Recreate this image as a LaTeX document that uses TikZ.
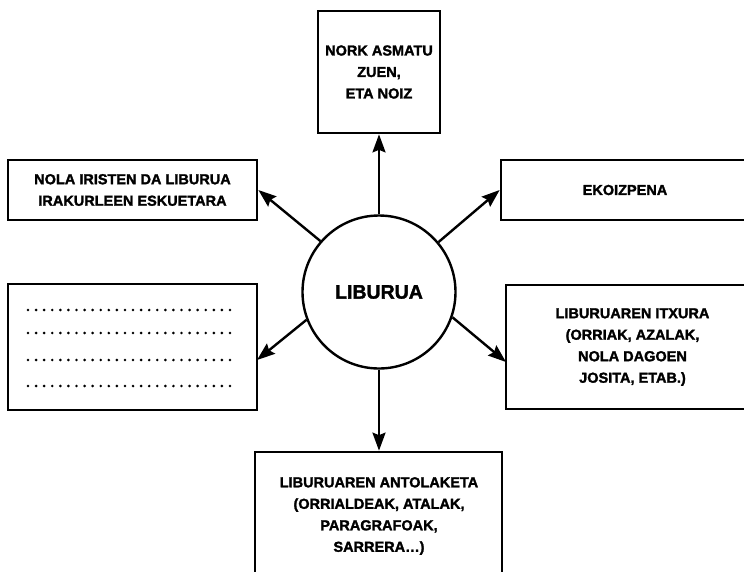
\documentclass[tikz,border=0pt]{standalone}
\usepackage{fontspec}
\setmainfont{Liberation Sans}[BoldFeatures={FakeBold=1.8}]
\usetikzlibrary{arrows.meta}
\begin{document}
\begin{tikzpicture}[x=1pt,y=-1pt,
  box/.style={draw=black,line width=2.7pt,rectangle,inner sep=0pt,align=center,
    font=\fontsize{14.5}{21.5}\selectfont\bfseries},
  conn/.style={line width=2.4pt,-{Stealth[length=18pt,width=13pt,inset=2.5pt]}}]
\useasboundingbox (0,0) rectangle (744,571);
\clip (0,0) rectangle (744,571);
\fill[white] (0,0) rectangle (744,571);
% centre
\node[circle,draw=black,line width=2.4pt,minimum size=153pt,inner sep=0pt,
  font=\fontsize{19.5}{22}\selectfont\bfseries] (c) at (379,292) {LIBURUA};
% boxes
\node[box,minimum width=122pt,minimum height=122pt] (top) at (379,72)
  {NORK ASMATU\\ZUEN,\\ETA NOIZ};
\node[box,minimum width=249pt,minimum height=60pt] (nola) at (132.5,190)
  {NOLA IRISTEN DA LIBURUA\\IRAKURLEEN ESKUETARA};
\node[box,minimum width=248pt,minimum height=60pt] (ekoiz) at (625,190)
  {EKOIZPENA};
\node[box,minimum width=249pt,minimum height=126pt] (dots) at (132.5,347) {};
\node[box,minimum width=253pt,minimum height=124pt] (itx) at (632.5,347)
  {LIBURUAREN ITXURA\\(ORRIAK, AZALAK,\\NOLA DAGOEN\\JOSITA, ETAB.)};
\node[box,minimum width=247pt,minimum height=180pt] (ant) at (378.5,542) {};
\node[align=center,inner sep=0pt,font=\fontsize{14.5}{21.5}\selectfont\bfseries] (antt) at (379,516)
  {LIBURUAREN ANTOLAKETA\\(ORRIALDEAK, ATALAK,\\PARAGRAFOAK,\\SARRERA\ldots)};
% dotted lines
\foreach \yy in {310,333,360,386}{
  \foreach \i in {0,...,25}{
    \fill (28+\i*8.08,\yy) circle (1.45pt);
  }
}
% tips
\coordinate (dtip) at (257,360);
\coordinate (itip) at (506,362);
% connectors
\draw[conn] (c.north) -- (top.south);
\draw[conn] (c.south) -- (c.south |- ant.north);
\draw[conn] (c.139.5) -- (nola.east);
\draw[conn] (c.40.5) -- (ekoiz.west);
\draw[conn] (c.201) -- (dtip);
\draw[conn] (c.-19.5) -- (itip);
\end{tikzpicture}
\end{document}
